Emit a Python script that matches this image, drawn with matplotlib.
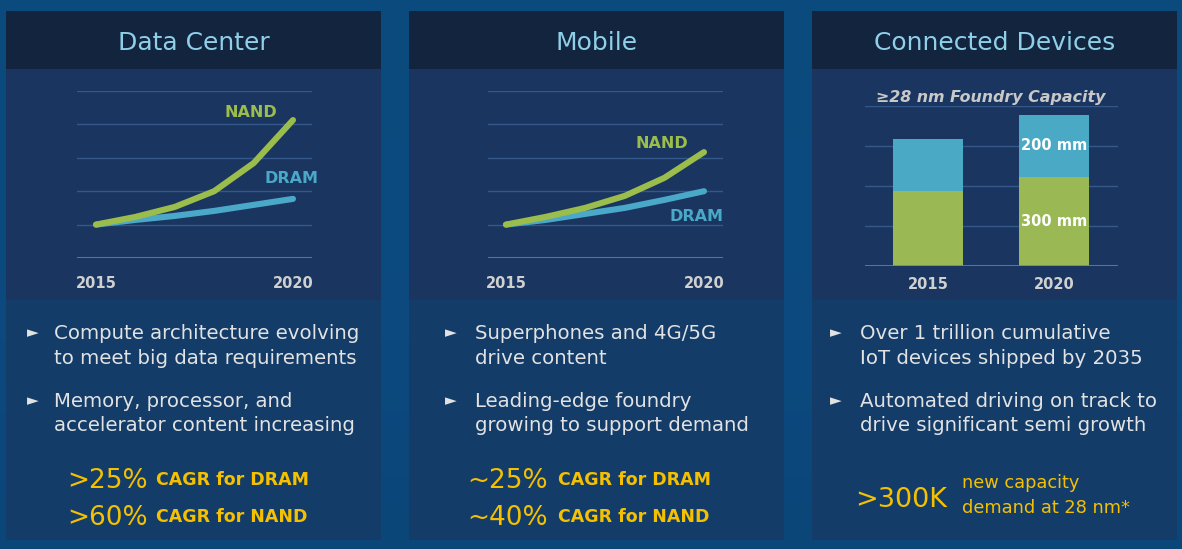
import matplotlib
matplotlib.use("Agg")
import matplotlib.pyplot as plt
from matplotlib.patches import Rectangle
from matplotlib.colors import LinearSegmentedColormap
import numpy as np

plt.rcParams['font.family'] = ['DejaVu Sans']

# ---------------- data ----------------
years = [2015, 2016, 2017, 2018, 2019, 2020]
dc_nand = [1.00, 1.23, 1.53, 2.00, 2.84, 4.13]
dc_dram = [1.00, 1.14, 1.26, 1.41, 1.59, 1.77]
mob_nand = [1.00, 1.23, 1.50, 1.86, 2.40, 3.17]
mob_dram = [1.00, 1.14, 1.32, 1.50, 1.74, 2.00]
bar_years = ['2015', '2020']
cap_300mm = [1.875, 2.225]
cap_200mm = [1.30, 1.55]

titles = ['Data Center', 'Mobile', 'Connected Devices']
bullets = [
    [['Compute architecture evolving', 'to meet big data requirements'],
     ['Memory, processor, and', 'accelerator content increasing']],
    [['Superphones and 4G/5G', 'drive content'],
     ['Leading-edge foundry', 'growing to support demand']],
    [['Over 1 trillion cumulative', 'IoT devices shipped by 2035'],
     ['Automated driving on track to', 'drive significant semi growth']],
]
stats_dc = [('>25%', 'CAGR for DRAM'), ('>60%', 'CAGR for NAND')]
stats_mob = [('~25%', 'CAGR for DRAM'), ('~40%', 'CAGR for NAND')]
stat_iot = ('>300K', ['new capacity', 'demand at 28 nm*'])

# ---------------- style ----------------
W, H = 1182, 549
HEADER = '#13243f'
CHART_BG = '#1a3660'
TEXT_BG = '#133c69'
TITLE_C = '#8fd0e8'
GREEN = '#9bbd4c'
BLUE = '#4aa8c8'
GRID = '#35588a'
BASE = '#8a7a72'
TXT = '#e2e2e2'
YEL = '#f5c000'

fig = plt.figure(figsize=(W / 100, H / 100), dpi=100)
fig.patch.set_facecolor('#0b4a7e')
bg = fig.add_axes([0, 0, 1, 1])
bg.axis('off')
bg.set_zorder(0)

grad = np.linspace(0, 1, 100).reshape(-1, 1)
cmap = LinearSegmentedColormap.from_list('bgc', ['#0a4a7c', '#0c4a80', '#0b4679'])
bg.imshow(grad, extent=[0, W, H, 0], cmap=cmap, aspect='auto', zorder=0)
bg.set_xlim(0, W)
bg.set_ylim(H, 0)

panels_x = [(6, 381), (409, 784), (812, 1177)]
for (x0, x1), t in zip(panels_x, titles):
    bg.add_patch(Rectangle((x0, 11), x1 - x0, 58, facecolor=HEADER, edgecolor='none', zorder=1))
    bg.add_patch(Rectangle((x0, 69), x1 - x0, 231, facecolor=CHART_BG, edgecolor='none', zorder=1))
    bg.add_patch(Rectangle((x0, 300), x1 - x0, 240, facecolor=TEXT_BG, edgecolor='none', zorder=1))
    bg.text((x0 + x1) / 2, 50, t, color=TITLE_C, fontsize=18, ha='center', va='baseline', zorder=3)

# bullets
bullet_x = [(27, 54), (445, 475), (830, 860)]
line_y = [[339, 364], [407, 431]]
for (bxp, tx), items in zip(bullet_x, bullets):
    for item, ys in zip(items, line_y):
        bg.text(bxp, ys[0] - 2, '\u25BA', color=TXT, fontsize=11, ha='left', va='baseline', zorder=3)
        for ln, y in zip(item, ys):
            bg.text(tx, y, ln, color=TXT, fontsize=14.2, ha='left', va='baseline', zorder=3)

# yellow stats
for (big, small), y in zip(stats_dc, [488, 525]):
    bg.text(67, y, big, color=YEL, fontsize=19, ha='left', va='baseline', zorder=3)
    bg.text(156, y - 3, small, color=YEL, fontsize=12.5, fontweight='bold', ha='left', va='baseline', zorder=3)
for (big, small), y in zip(stats_mob, [488, 525]):
    bg.text(467, y, big, color=YEL, fontsize=19, ha='left', va='baseline', zorder=3)
    bg.text(558, y - 3, small, color=YEL, fontsize=12.5, fontweight='bold', ha='left', va='baseline', zorder=3)
bg.text(855, 507, stat_iot[0], color=YEL, fontsize=19.5, ha='left', va='baseline', zorder=3)
for ln, y in zip(stat_iot[1], [488, 513]):
    bg.text(962, y, ln, color=YEL, fontsize=12.8, ha='left', va='baseline', zorder=3)


def px_axes(x0, x1, ytop, ybot):
    ax = fig.add_axes([x0 / W, 1 - ybot / H, (x1 - x0) / W, (ybot - ytop) / H])
    for s in ax.spines.values():
        s.set_visible(False)
    ax.set_xticks([])
    ax.set_yticks([])
    ax.set_zorder(2)
    ax.patch.set_alpha(0)
    return ax


def line_panel(x0, x1, x2015, x2020, nand, dram, nand_lbl, dram_lbl):
    ax = px_axes(x0, x1, 91, 258)
    per = (x2020 - x2015) / 5.0
    ax.set_xlim(2015 - (x2015 - x0) / per, 2020 + (x1 - x2020) / per)
    ax.set_ylim(0, 5)
    for g in [1, 2, 3, 4, 5]:
        ax.axhline(g, color=GRID, lw=1.0, zorder=1)
    ax.axhline(0, color=BASE, lw=1.2, zorder=1)
    ax.plot(years, dram, color=BLUE, lw=4.4, solid_capstyle='round', solid_joinstyle='round', zorder=3)
    ax.plot(years, nand, color=GREEN, lw=4.4, solid_capstyle='round', solid_joinstyle='round', zorder=4)
    for yr in (2015, 2020):
        ax.text(yr, -0.53, str(yr), color='#d0d0d0', fontsize=10.5, fontweight='bold',
                ha='center', va='top', clip_on=False)
    ax.text(nand_lbl[0], nand_lbl[1], 'NAND', color=GREEN, fontsize=11.5, fontweight='bold', ha='center', va='center')
    ax.text(dram_lbl[0], dram_lbl[1], 'DRAM', color=BLUE, fontsize=11.5, fontweight='bold', ha='center', va='center')
    return ax


line_panel(77, 312, 96, 293, dc_nand, dc_dram, (2018.93, 4.37), (2019.97, 2.37))
line_panel(488, 723, 506, 704, mob_nand, mob_dram, (2018.94, 3.44), (2019.8, 1.23))

# Connected devices bar chart
bx = px_axes(865, 1118, 106, 266)
bx.set_xlim(-0.5, 1.508)
bx.set_ylim(0, 4)
for g in [1, 2, 3, 4]:
    bx.axhline(g, color=GRID, lw=1.0, zorder=1)
bx.axhline(0, color=BASE, lw=1.2, zorder=4)
xpos = np.arange(len(bar_years))
bw = 70 / 126
bx.bar(xpos, cap_300mm, width=bw, color='#9ab955', zorder=2)
bx.bar(xpos, cap_200mm, bottom=cap_300mm, width=bw, color='#4aaac6', zorder=2)
for x, lab in zip(xpos, bar_years):
    bx.text(x, -0.27, lab, color='#d0d0d0', fontsize=10.5, fontweight='bold', ha='center', va='top')
bx.text(1, 3.0, '200 mm', color='white', fontsize=10.5, fontweight='bold', ha='center', va='center')
bx.text(1, 1.1, '300 mm', color='white', fontsize=10.5, fontweight='bold', ha='center', va='center')
bg.text(991, 102, '\u226528 nm Foundry Capacity', color='#c8c8c8', fontsize=11.4, style='italic',
        fontweight='bold', ha='center', va='baseline', zorder=3)

fig.savefig('out.png', dpi=100, facecolor=fig.get_facecolor())
